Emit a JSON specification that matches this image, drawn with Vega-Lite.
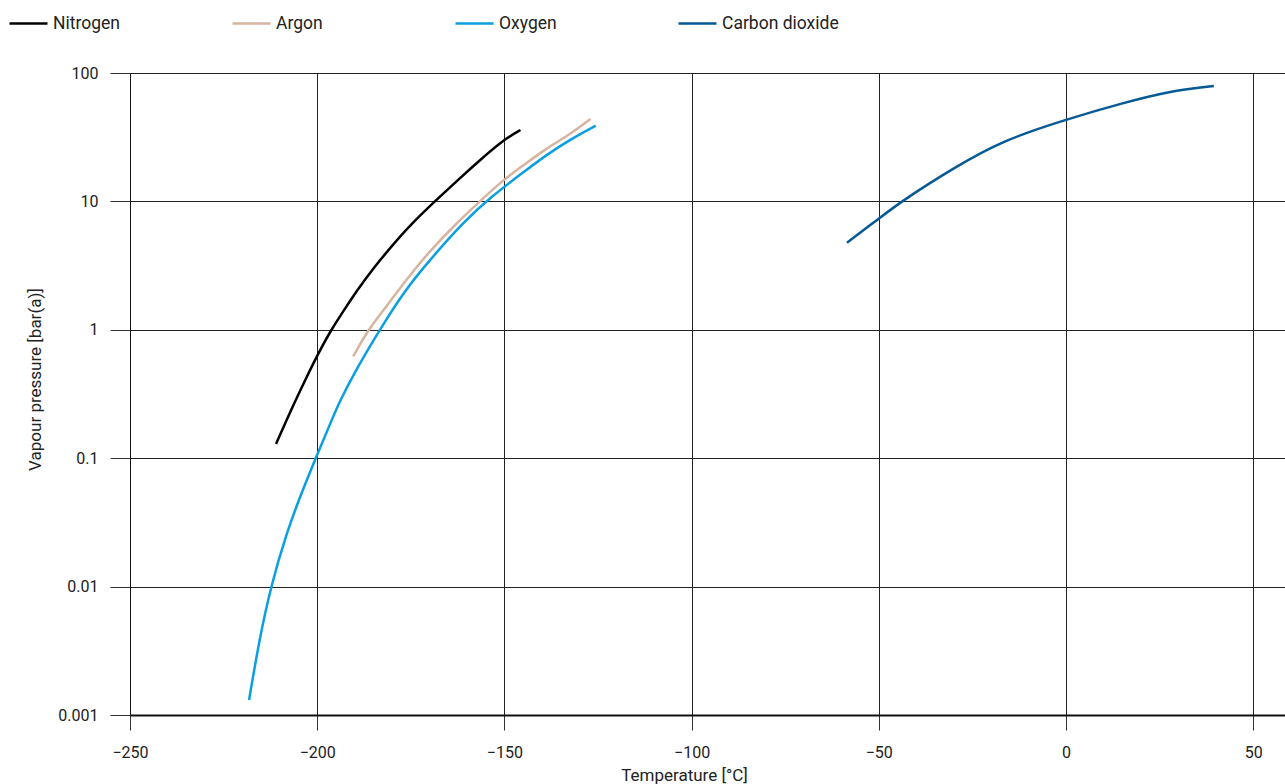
{
  "$schema": "https://vega.github.io/schema/vega-lite/v6.json",
  "width": 1155,
  "height": 642,
  "autosize": {"type": "none"},
  "padding": {"left": 130, "top": 73, "right": 0, "bottom": 69},
  "background": "white",
  "config": {
    "font": "Roboto",
    "view": {"stroke": null},
    "axis": {"labelFont": "Roboto", "titleFont": "Roboto", "labelColor": "#222", "titleColor": "#222", "titleFontWeight": "normal"}
  },
  "data": {
    "values": [
      {"gas": "Nitrogen", "t": -211.0, "p": 0.129},
      {"gas": "Nitrogen", "t": -207.0, "p": 0.237},
      {"gas": "Nitrogen", "t": -203.5, "p": 0.389},
      {"gas": "Nitrogen", "t": -200.0, "p": 0.631},
      {"gas": "Nitrogen", "t": -196.3, "p": 1.0},
      {"gas": "Nitrogen", "t": -192.0, "p": 1.549},
      {"gas": "Nitrogen", "t": -189.5, "p": 1.995},
      {"gas": "Nitrogen", "t": -185.0, "p": 3.02},
      {"gas": "Nitrogen", "t": -180.0, "p": 4.52},
      {"gas": "Nitrogen", "t": -175.0, "p": 6.61},
      {"gas": "Nitrogen", "t": -168.6, "p": 10.0},
      {"gas": "Nitrogen", "t": -162.0, "p": 15.07},
      {"gas": "Nitrogen", "t": -156.6, "p": 20.9},
      {"gas": "Nitrogen", "t": -150.3, "p": 30.06},
      {"gas": "Nitrogen", "t": -145.7, "p": 35.97},
      {"gas": "Argon", "t": -190.4, "p": 0.62},
      {"gas": "Argon", "t": -186.4, "p": 1.0},
      {"gas": "Argon", "t": -182.0, "p": 1.45},
      {"gas": "Argon", "t": -178.8, "p": 1.95},
      {"gas": "Argon", "t": -174.0, "p": 2.95},
      {"gas": "Argon", "t": -169.9, "p": 4.1},
      {"gas": "Argon", "t": -163.0, "p": 6.67},
      {"gas": "Argon", "t": -156.6, "p": 10.0},
      {"gas": "Argon", "t": -150.3, "p": 14.7},
      {"gas": "Argon", "t": -144.5, "p": 19.5},
      {"gas": "Argon", "t": -138.8, "p": 25.9},
      {"gas": "Argon", "t": -133.0, "p": 32.5},
      {"gas": "Argon", "t": -127.0, "p": 43.9},
      {"gas": "Oxygen", "t": -218.2, "p": 0.00131},
      {"gas": "Oxygen", "t": -215.5, "p": 0.0038},
      {"gas": "Oxygen", "t": -212.4, "p": 0.01},
      {"gas": "Oxygen", "t": -208.2, "p": 0.026},
      {"gas": "Oxygen", "t": -204.5, "p": 0.051},
      {"gas": "Oxygen", "t": -200.4, "p": 0.1},
      {"gas": "Oxygen", "t": -196.2, "p": 0.196},
      {"gas": "Oxygen", "t": -193.9, "p": 0.28},
      {"gas": "Oxygen", "t": -190.0, "p": 0.468},
      {"gas": "Oxygen", "t": -183.3, "p": 1.0},
      {"gas": "Oxygen", "t": -176.5, "p": 2.05},
      {"gas": "Oxygen", "t": -169.9, "p": 3.5},
      {"gas": "Oxygen", "t": -161.0, "p": 6.9},
      {"gas": "Oxygen", "t": -153.0, "p": 11.2},
      {"gas": "Oxygen", "t": -145.0, "p": 16.8},
      {"gas": "Oxygen", "t": -138.8, "p": 23.0},
      {"gas": "Oxygen", "t": -132.0, "p": 30.9},
      {"gas": "Oxygen", "t": -125.6, "p": 38.9},
      {"gas": "Carbon dioxide", "t": -58.5, "p": 4.77},
      {"gas": "Carbon dioxide", "t": -50.2, "p": 7.26},
      {"gas": "Carbon dioxide", "t": -44.0, "p": 10.0},
      {"gas": "Carbon dioxide", "t": -30.2, "p": 18.1},
      {"gas": "Carbon dioxide", "t": -16.8, "p": 30.0},
      {"gas": "Carbon dioxide", "t": 0.2, "p": 43.6},
      {"gas": "Carbon dioxide", "t": 14.8, "p": 58.0},
      {"gas": "Carbon dioxide", "t": 28.2, "p": 72.8},
      {"gas": "Carbon dioxide", "t": 39.5, "p": 79.2}
    ]
  },
  "mark": {"type": "line", "strokeWidth": 2.5, "interpolate": "basis", "clip": true},
  "encoding": {
    "x": {
      "field": "t", "type": "quantitative",
      "scale": {"domain": [-250, 58.5], "nice": false, "zero": false},
      "axis": {
        "values": [-250, -200, -150, -100, -50, 0, 50],
        "title": "Temperature [°C]",
        "titleFontSize": 17, "titleX": 554, "titleY": 65, "titleAnchor": "start", "titleAlign": "center", "titleBaseline": "alphabetic",
        "labelFontSize": 16, "labelPadding": 14, "labelFlush": false,
        "tickSize": 15, "tickColor": "#333", "tickWidth": 1,
        "domainColor": "#111", "domainWidth": 2,
        "grid": true, "gridColor": "#222", "gridWidth": 1
      }
    },
    "y": {
      "field": "p", "type": "quantitative",
      "scale": {"type": "log", "domain": [0.001, 100], "nice": false},
      "axis": {
        "values": [0.001, 0.01, 0.1, 1, 10, 100],
        "format": "~g",
        "title": "Vapour pressure [bar(a)]",
        "titleFontSize": 17, "titleX": -95, "titleY": 306, "titleAngle": -90, "titleAlign": "center", "titleBaseline": "middle",
        "labelFontSize": 16, "labelPadding": 12, "labelFlush": false,
        "tickSize": 20, "tickColor": "#333", "tickWidth": 1,
        "domainColor": "#111", "domainWidth": 1,
        "grid": true, "gridColor": "#222", "gridWidth": 1
      }
    },
    "color": {
      "field": "gas", "type": "nominal",
      "scale": {
        "domain": ["Nitrogen", "Argon", "Oxygen", "Carbon dioxide"],
        "range": ["#000000", "#d6b4a0", "#0a9fe0", "#055a96"]
      },
      "legend": {
        "title": null,
        "orient": "none",
        "direction": "horizontal",
        "legendX": -122,
        "legendY": -70,
        "symbolType": "stroke",
        "symbolSize": 1444,
        "symbolStrokeWidth": 2.5,
        "labelFontSize": 17.5,
        "labelColor": "#222",
        "labelOffset": 4,
        "gridAlign": "all",
        "columnPadding": 57,
        "labelLimit": 300
      }
    }
  }
}
